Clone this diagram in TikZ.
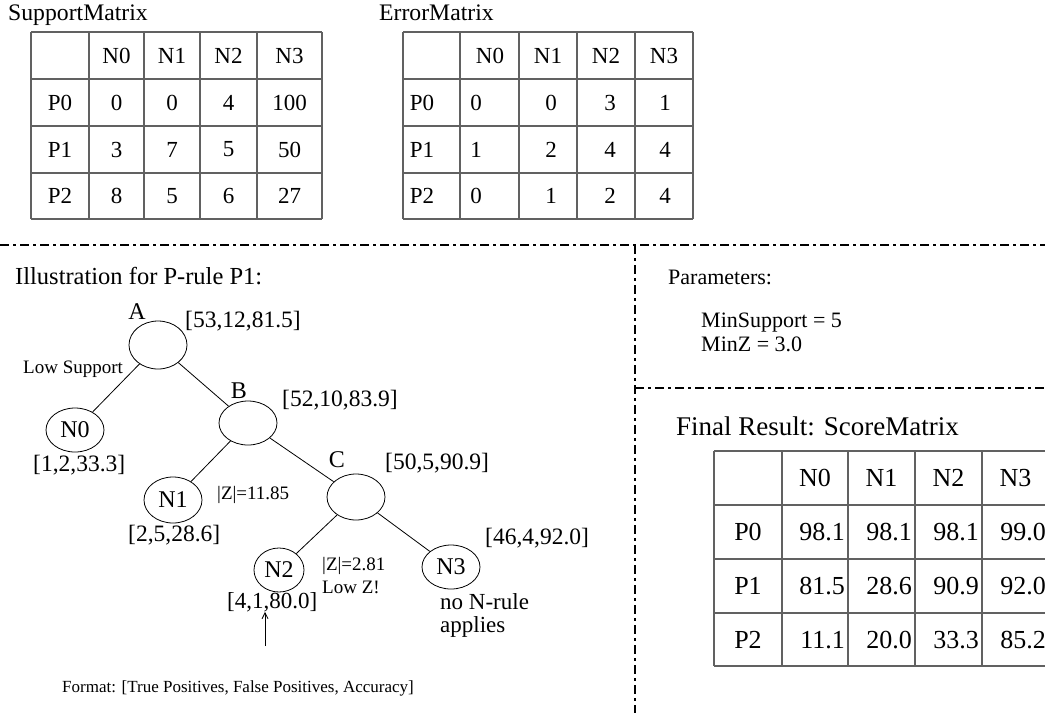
\documentclass[tikz,border=0pt]{standalone}
\usepackage{fontspec}
\setmainfont{Liberation Serif}
\usetikzlibrary{shapes.geometric,arrows.meta}
\begin{document}
\begin{tikzpicture}[x=1pt,y=-1pt,
  divider/.style={line width=2.2pt, dash pattern=on 9pt off 4pt on 3pt off 4pt},
  gridline/.style={draw=black!62, line width=1.2pt},
  cellA/.style={font=\fontsize{23}{27}\selectfont, inner sep=0pt},
  cellB/.style={font=\fontsize{26}{30}\selectfont, inner sep=0pt},
  title/.style={font=\fontsize{23.7}{27}\selectfont, inner sep=0pt, anchor=base west},
  treenode/.style={draw, ellipse, line width=0.8pt, minimum width=58pt, minimum height=46pt, inner sep=0pt, font=\fontsize{24}{28}\selectfont},
  lbl/.style={font=\fontsize{23.5}{27}\selectfont, inner sep=0pt, anchor=west},
  small/.style={font=\fontsize{19}{23}\selectfont, inner sep=0pt, anchor=west},
  edge/.style={line width=0.8pt}
]
\useasboundingbox (0,0) rectangle (1045,713);

% ---------- Support matrix ----------
\node[title] (stitle) at (8,20) {SupportMatrix};
\foreach \x in {31,89,144,200,257,322} \draw[gridline] (\x,32) -- (\x,219);
\foreach \y in {32,79,126,173,219} \draw[gridline] (31,\y) -- (322,\y);
\foreach \t/\x [count=\c] in {N0/116.5,N1/172,N2/228.5,N3/289.5}
  \node[cellA] (sh\c) at (\x,55.5) {\t};
\foreach \p/\y/\a/\b/\cc/\d in {P0/102.5/0/0/4/100, P1/149.5/3/7/5/50, P2/196/8/5/6/27} {
  \node[cellA] (s\p) at (60,\y) {\p};
  \node[cellA] (s\p-1) at (116.5,\y) {\a};
  \node[cellA] (s\p-2) at (172,\y) {\b};
  \node[cellA] (s\p-3) at (228.5,\y) {\cc};
  \node[cellA] (s\p-4) at (289.5,\y) {\d};
}

% ---------- Error matrix ----------
\node[title] (etitle) at (379,20) {ErrorMatrix};
\foreach \x in {403,460,519,577,635,693} \draw[gridline] (\x,32) -- (\x,219);
\foreach \y in {32,79,126,173,219} \draw[gridline] (403,\y) -- (693,\y);
\foreach \t/\x [count=\c] in {N0/490,N1/548,N2/606,N3/664}
  \node[cellA] (eh\c) at (\x,55.5) {\t};
\foreach \p/\y/\a/\b/\cc/\d in {P0/102.5/0/0/3/1, P1/149.5/1/2/4/4, P2/196/0/1/2/4} {
  \node[cellA] (e\p) at (422,\y) {\p};
  \node[cellA] (e\p-1) at (476,\y) {\a};
  \node[cellA] (e\p-2) at (551,\y) {\b};
  \node[cellA] (e\p-3) at (610,\y) {\cc};
  \node[cellA] (e\p-4) at (665,\y) {\d};
}

% ---------- dividers ----------
\draw[divider] (0,245) -- (1045,245);
\draw[divider] (635,245) -- (635,713);
\draw[divider] (635,388) -- (1045,388);

% ---------- Parameters ----------
\node[title, font=\fontsize{22}{26}\selectfont] (params) at (668,284) {Parameters:};
\node[title, font=\fontsize{22}{26}\selectfont] (minsup) at (701,327) {MinSupport = 5};
\node[title, font=\fontsize{22}{26}\selectfont] (minz) at (701,351) {MinZ = 3.0};

% ---------- Score matrix ----------
\node[title, font=\fontsize{27}{31}\selectfont] (ftitle) at (676,435) {Final Result: ScoreMatrix};
\foreach \x in {714,782,848,915,982,1049} \draw[gridline] (\x,451) -- (\x,666);
\foreach \y in {451,505,559,613,666} \draw[gridline] (714,\y) -- (1049,\y);
\foreach \t/\x [count=\c] in {N0/815,N1/881.5,N2/948.5,N3/1015.5}
  \node[cellB] (fh\c) at (\x,478) {\t};
\foreach \p/\y/\a/\b/\cc/\d in {P0/532/98.1/98.1/98.1/99.0, P1/586/81.5/28.6/90.9/92.0, P2/640/11.1/20.0/33.3/85.2} {
  \node[cellB] (f\p) at (748,\y) {\p};
  \node[cellB, anchor=east] (f\p-1) at (845,\y) {\a};
  \node[cellB, anchor=east] (f\p-2) at (912,\y) {\b};
  \node[cellB, anchor=east] (f\p-3) at (979,\y) {\cc};
  \node[cellB, anchor=east] (f\p-4) at (1046,\y) {\d};
}

% ---------- Tree ----------
\node[title, font=\fontsize{24.5}{28}\selectfont] (illus) at (15,284) {Illustration for P-rule P1:};

\node[treenode, minimum height=48pt] (A) at (158,345) {};
\node[treenode, minimum height=44pt] (N0) at (75,430) {N0};
\node[treenode, minimum height=44pt] (B) at (248,423) {};
\node[treenode] (N1) at (173,500) {N1};
\node[treenode] (C) at (356,497) {};
\node[treenode, minimum width=50pt, minimum height=44pt] (N2) at (279,570) {N2};
\node[treenode, minimum height=44pt] (N3) at (451,567) {N3};

\draw[edge] (A) -- (N0);
\draw[edge] (A) -- (B);
\draw[edge] (B) -- (N1);
\draw[edge] (B) -- (C);
\draw[edge] (C) -- (N2);
\draw[edge] (C) -- (N3);

\node[lbl, anchor=center, font=\fontsize{24}{28}\selectfont] (Alab) at (137,312) {A};
\node[lbl] (Aval) at (185,321) {[53,12,81.5]};
\node[small, anchor=base west] (lowsup) at (23,373) {Low Support};
\node[lbl, anchor=center, font=\fontsize{24}{28}\selectfont] (Blab) at (239,391) {B};
\node[lbl] (Bval) at (282,400) {[52,10,83.9]};
\node[lbl] (N0val) at (33,465) {[1,2,33.3]};
\node[lbl, anchor=center, font=\fontsize{24}{28}\selectfont] (Clab) at (337,460) {C};
\node[lbl] (Cval) at (385,463) {[50,5,90.9]};
\node[small] (z1) at (217,495) {|Z|=11.85};
\node[lbl] (N1val) at (128,535) {[2,5,28.6]};
\node[small, anchor=north west, align=left, font=\fontsize{19}{23.5}\selectfont] (z2) at (322,557) {|Z|=2.81\\Low Z!};
\node[lbl] (N3val) at (485,538) {[46,4,92.0]};
\node[lbl, font=\fontsize{23}{27}\selectfont] (N2val) at (227,602) {[4,1,80.0]};
\node[lbl, anchor=north west, align=left, font=\fontsize{23}{23}\selectfont] (norule) at (440,593) {no N-rule\\applies};

\node[font=\fontsize{17}{20}\selectfont, inner sep=0pt, anchor=west] (fmt) at (62,688) {Format: [True Positives, False Positives, Accuracy]};
\coordinate (arrstart) at (265,646);
\draw[line width=0.8pt, -{Straight Barb[length=6pt,width=6pt]}] (arrstart) -- (arrstart |- N2val.south);
\end{tikzpicture}
\end{document}
